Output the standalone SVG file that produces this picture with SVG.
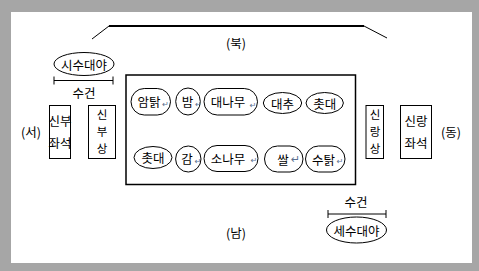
<svg xmlns="http://www.w3.org/2000/svg" width="479" height="271" viewBox="0 0 479 271">
<style>
.t{font-family:"Noto Sans CJK KR","Noto Sans",sans-serif;font-size:12.5px;fill:#000;text-anchor:middle;dominant-baseline:central}
.v{font-size:11.5px}
.s{fill:#fff;stroke:#000;stroke-width:1}
.p{font-family:"DejaVu Sans",sans-serif;font-size:8px;fill:#5a6f8f;text-anchor:middle;dominant-baseline:central}
.l{stroke:#000;stroke-width:1;fill:none}
</style>
<rect x="0" y="0" width="479" height="271" fill="#a6a6a6"/>
<rect x="11" y="12" width="461" height="251" fill="#fff"/>
<g id="connectors">
<path class="l" d="M92,39 L109,26"/>
<path d="M109,26 L364,26" stroke="#000" stroke-width="2"/>
<path class="l" d="M364,26 L387,38"/>
<path class="l" d="M54,80.5 H113 M54,76.5 V84.5 M113,76.5 V84.5"/>
<path class="l" d="M328,214 H386 M328,210 V218 M386,210 V218"/>
</g>
<g id="north"><text class="t" x="236" y="42">(북)</text></g>
<g id="south"><text class="t" x="236" y="232">(남)</text></g>
<g id="west"><text class="t" x="31" y="131">(서)</text></g>
<g id="east"><text class="t" x="451" y="131">(동)</text></g>
<g id="basin-left"><ellipse class="s" cx="84" cy="64" rx="30" ry="11.5"/><text class="t" x="84" y="64">시수대야</text></g>
<g id="towel-left"><text class="t" x="84" y="92">수건</text></g>
<g id="towel-right"><text class="t" x="356" y="201">수건</text></g>
<g id="basin-right"><ellipse class="s" cx="356.5" cy="230" rx="30" ry="13"/><text class="t" x="356.5" y="230">세수대야</text></g>
<g id="bride-seat"><rect class="s" x="49.5" y="105.5" width="21" height="53"/><text class="t" x="60" y="120">신부</text><text class="t" x="60" y="142">좌석</text></g>
<g id="bride-table"><rect class="s" x="88.5" y="105.5" width="27" height="53"/><text class="t v" x="102" y="114">신</text><text class="t v" x="102" y="131">부</text><text class="t v" x="102" y="148">상</text></g>
<g id="groom-table"><rect class="s" x="366" y="105.5" width="17.5" height="53"/><text class="t v" x="375" y="114">신</text><text class="t v" x="375" y="131">랑</text><text class="t v" x="375" y="148">상</text></g>
<g id="groom-seat"><rect class="s" x="400.5" y="105.5" width="31" height="53"/><text class="t" x="416" y="120">신랑</text><text class="t" x="416" y="142">좌석</text></g>
<g id="table"><rect x="126" y="75" width="229.5" height="109.5" fill="#fff" stroke="#000" stroke-width="1.5"/></g>
<g id="hen"><rect class="s" x="131" y="88.5" width="39.5" height="26.5" rx="13.25"/><text class="t" x="149" y="101">암탉</text><text class="p" x="165.5" y="104">↵</text></g>
<g id="chestnut"><ellipse class="s" cx="188" cy="101.5" rx="12.3" ry="13.5"/><text class="t" x="187.5" y="101.5">밤</text><text class="p" x="198.5" y="104">↵</text></g>
<g id="bamboo"><rect class="s" x="204" y="88.5" width="53.5" height="26.5" rx="13.25"/><text class="t" x="228" y="101">대나무</text><text class="p" x="253" y="105">↵</text></g>
<g id="jujube"><ellipse class="s" cx="282.5" cy="103" rx="19.2" ry="10.5"/><text class="t" x="282.5" y="103">대추</text></g>
<g id="candle-top"><ellipse class="s" cx="324.7" cy="103" rx="18.7" ry="10.5"/><text class="t" x="324.7" y="103">촛대</text></g>
<g id="candle-bottom"><ellipse class="s" cx="153" cy="157.5" rx="19" ry="11"/><text class="t" x="153" y="157.5">촛대</text></g>
<g id="persimmon"><ellipse class="s" cx="188.3" cy="159" rx="12.7" ry="13"/><text class="t" x="187" y="158.5">감</text><text class="p" x="198" y="161">↵</text></g>
<g id="pine"><rect class="s" x="204" y="145.5" width="54" height="26" rx="13"/><text class="t" x="228" y="158">소나무</text><text class="p" x="254" y="160.5">↵</text></g>
<g id="rice"><rect class="s" x="264.5" y="146" width="38.5" height="26" rx="13"/><text class="t" x="283" y="159">쌀</text><text class="p" x="295.5" y="159.5" style="font-size:11px">↵</text></g>
<g id="rooster"><rect class="s" x="305.5" y="146" width="39.5" height="26" rx="13"/><text class="t" x="323.5" y="159">수탉</text><text class="p" x="340" y="161">↵</text></g>
</svg>
